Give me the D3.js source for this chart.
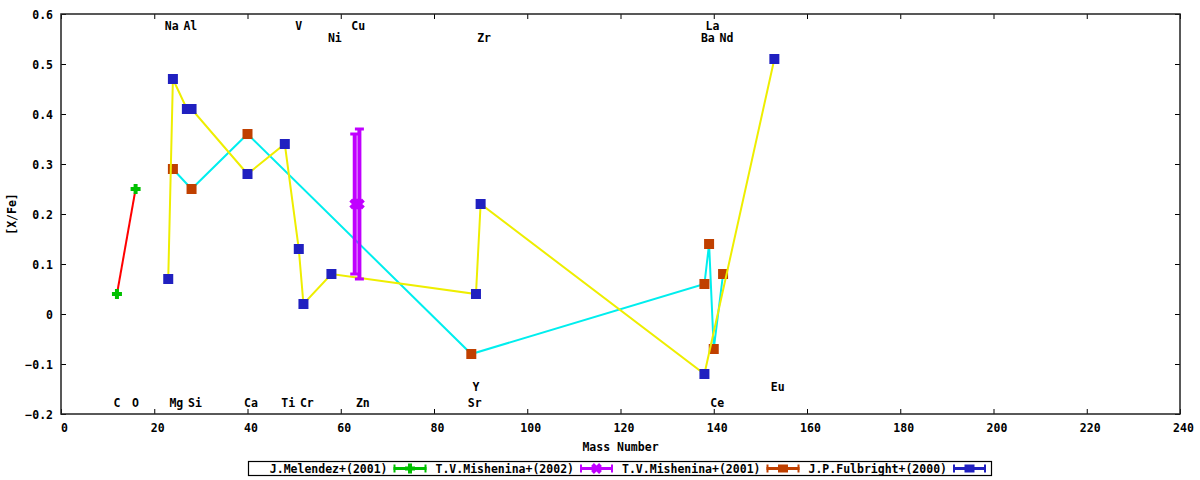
<!DOCTYPE html>
<html>
<head>
<meta charset="utf-8">
<script src="https://cdn.jsdelivr.net/npm/d3@7/dist/d3.min.js"></script>
<style>
    body { margin: 0; background: #fff; }
    text { font-family: "DejaVu Sans Mono", monospace; font-weight: bold; font-size: 11.5px; fill: #000; }
</style>
</head>
<body>
<div id="graphic"></div>
<script>
// J.Melendez+(2001): C, O
var melendezMass = [12, 16];
var melendezVal = [0.04, 0.25];

// T.V.Mishenina+(2002): Cu, Zn with error bars
var mish02Mass = [63, 64];
var mish02Val = [0.22, 0.22];
var mish02Lo = [0.08, 0.07];
var mish02Hi = [0.36, 0.37];

// T.V.Mishenina+(2001)
var mish01Mass = [24, 28, 40, 88, 138, 139, 140, 142];
var mish01Val = [0.29, 0.25, 0.36, -0.08, 0.06, 0.14, -0.07, 0.08];

// J.P.Fulbright+(2000)
var fulbMass = [23, 24, 27, 28, 40, 48, 51, 52, 58, 89, 90, 138, 153];
var fulbVal = [0.07, 0.47, 0.41, 0.41, 0.28, 0.34, 0.13, 0.02, 0.08, 0.04, 0.22, -0.12, 0.51];

// element labels (row: 0,1 top rows; 2,3 bottom rows)
var elemNames = ['C', 'O', 'Na', 'Mg', 'Al', 'Si', 'Ca', 'Ti', 'V', 'Cr', 'Ni', 'Cu', 'Zn', 'Sr', 'Y', 'Zr', 'Ba', 'La', 'Ce', 'Nd', 'Eu'];
var elemMass = [12, 16, 23, 24, 27, 28, 40, 48, 51, 52, 58, 63, 64, 88, 89, 90, 138, 139, 140, 142, 153];
var elemRow = [3, 3, 0, 3, 0, 3, 3, 3, 0, 3, 1, 0, 3, 3, 2, 1, 1, 0, 3, 1, 2];

var xTicks = [0, 20, 40, 60, 80, 100, 120, 140, 160, 180, 200, 220, 240];
var yTicks = [-0.2, -0.1, 0, 0.1, 0.2, 0.3, 0.4, 0.5, 0.6];

var legendNames = ['J.Melendez+(2001)', 'T.V.Mishenina+(2002)', 'T.V.Mishenina+(2001)', 'J.P.Fulbright+(2000)'];

var colors = {
    'red': '#ff0000', 'green': '#00c000', 'magenta': '#c000ff', 'cyan': '#00eeee',
    'brown': '#c04000', 'yellow': '#eeee00', 'navy': '#2020c0'
};

var rowValue = [0.576, 0.552, -0.146, -0.178];

var render = function() {
    var width = 1200, height = 480;
    var margins = { top: 14, right: 20, bottom: 66, left: 61 };

    var svg = d3.select('#graphic').append('svg')
        .attr('width', width)
        .attr('height', height);

    var x = d3.scaleLinear().domain([0, 240]).range([margins.left, width - margins.right]);
    var y = d3.scaleLinear().domain([-0.2, 0.6]).range([height - margins.bottom, margins.top]);

    var x0 = x.range()[0], x1 = x.range()[1], y0 = y.range()[0], y1 = y.range()[1];

    // axes, ticks pointing inward, mirrored on top and right
    var fmt = function(d) { return d === 0 ? '0' : d3.format('.1f')(d); };

    var bottom = svg.append('g').attr('transform', 'translate(0,' + y0 + ')')
        .call(d3.axisBottom(x).tickValues(xTicks).tickSize(-5).tickPadding(10).tickFormat(d3.format('d')));
    var top = svg.append('g').attr('transform', 'translate(0,' + y1 + ')')
        .call(d3.axisTop(x).tickValues(xTicks).tickSize(-5).tickFormat(''));
    var left = svg.append('g').attr('transform', 'translate(' + x0 + ',0)')
        .call(d3.axisLeft(y).tickValues(yTicks).tickSize(-5).tickPadding(8).tickFormat(fmt));
    var right = svg.append('g').attr('transform', 'translate(' + x1 + ',0)')
        .call(d3.axisRight(y).tickValues(yTicks).tickSize(-5).tickFormat(''));

    [bottom, top, left, right].forEach(function(g) {
        g.select('.domain').remove();
        g.selectAll('line').attr('stroke', '#000');
        g.selectAll('text').attr('font-family', null).attr('font-size', null).attr('fill', null);
    });
    left.selectAll('text').attr('dy', '0.35em');
    bottom.selectAll('text').attr('dx', 3);

    svg.append('rect')
        .attr('x', x0).attr('y', y1)
        .attr('width', x1 - x0).attr('height', y0 - y1)
        .attr('fill', 'none').attr('stroke', '#222').attr('stroke-width', 1.5);

    // axis titles
    svg.append('text')
        .attr('x', (x0 + x1) / 2).attr('y', 451)
        .attr('text-anchor', 'middle')
        .text('Mass Number');
    svg.append('text')
        .attr('transform', 'translate(16,' + ((y0 + y1) / 2) + ') rotate(-90)')
        .attr('text-anchor', 'middle')
        .text('[X/Fe]');

    // element labels
    svg.append('g').selectAll('text')
        .data(elemNames)
        .enter().append('text')
        .attr('x', function(d, i) { return x(elemMass[i]) - 3.5; })
        .attr('y', function(d, i) { return y(rowValue[elemRow[i]]); })
        .attr('dy', '0.35em')
        .text(function(d) { return d; });

    var line = d3.line()
        .x(function(d) { return x(d[0]); })
        .y(function(d) { return y(d[1]); });

    var zip = function(a, b) { return a.map(function(d, i) { return [d, b[i]]; }); };

    // connecting lines and points
    svg.append('path').datum(zip(melendezMass, melendezVal))
        .attr('d', line).attr('fill', 'none').attr('stroke', colors.red).attr('stroke-width', 2);

    svg.append('path').datum(zip(mish01Mass, mish01Val))
        .attr('d', line).attr('fill', 'none').attr('stroke', colors.cyan).attr('stroke-width', 2);

    var sq = 10;
    svg.append('g').selectAll('rect')
        .data(zip(mish01Mass, mish01Val))
        .enter().append('rect')
        .attr('x', function(d) { return x(d[0]) - sq / 2; })
        .attr('y', function(d) { return y(d[1]) - sq / 2; })
        .attr('width', sq).attr('height', sq)
        .attr('fill', colors.brown);

    svg.append('path').datum(zip(fulbMass, fulbVal))
        .attr('d', line).attr('fill', 'none').attr('stroke', colors.yellow).attr('stroke-width', 2);

    svg.append('g').selectAll('rect')
        .data(zip(fulbMass, fulbVal))
        .enter().append('rect')
        .attr('x', function(d) { return x(d[0]) - sq / 2; })
        .attr('y', function(d) { return y(d[1]) - sq / 2; })
        .attr('width', sq).attr('height', sq)
        .attr('fill', colors.navy);

    // markers
    var plus = function(g, cx, cy, color) {
        g.append('path')
            .attr('d', 'M' + (cx - 5) + ',' + cy + 'H' + (cx + 5) + 'M' + cx + ',' + (cy - 5) + 'V' + (cy + 5))
            .attr('stroke', color).attr('stroke-width', 4).attr('fill', 'none');
    };
    var cross = function(g, cx, cy, color) {
        g.append('path')
            .attr('d', 'M' + (cx - 4) + ',' + (cy - 4) + 'L' + (cx + 4) + ',' + (cy + 4) +
                'M' + (cx - 4) + ',' + (cy + 4) + 'L' + (cx + 4) + ',' + (cy - 4))
            .attr('stroke', color).attr('stroke-width', 4).attr('fill', 'none');
    };

    var gGreen = svg.append('g');
    melendezMass.forEach(function(m, i) { plus(gGreen, x(m), y(melendezVal[i]), colors.green); });

    // error bars
    var gErr = svg.append('g');
    mish02Mass.forEach(function(m, i) {
        var cx = x(m);
        gErr.append('line')
            .attr('x1', cx).attr('x2', cx)
            .attr('y1', y(mish02Lo[i])).attr('y2', y(mish02Hi[i]))
            .attr('stroke', colors.magenta).attr('stroke-width', 4);
        [mish02Lo[i], mish02Hi[i]].forEach(function(v) {
            gErr.append('line')
                .attr('x1', cx - 4.5).attr('x2', cx + 4.5)
                .attr('y1', y(v)).attr('y2', y(v))
                .attr('stroke', colors.magenta).attr('stroke-width', 3);
        });
        cross(gErr, cx, y(mish02Val[i]), colors.magenta);
    });

    // legend
    var legendY = 468.5;
    var legendLeft = 248.5, entryWidth = 186.5;
    svg.append('rect')
        .attr('x', legendLeft).attr('y', 461.5)
        .attr('width', entryWidth * 4 - 3).attr('height', 14)
        .attr('fill', 'none').attr('stroke', '#000').attr('stroke-width', 1.2);

    var sampleColors = [colors.green, colors.magenta, colors.brown, colors.navy];
    var gLegend = svg.append('g');
    legendNames.forEach(function(name, i) {
        var textEnd = legendLeft + 139 + i * entryWidth;
        gLegend.append('text')
            .attr('x', textEnd).attr('y', legendY)
            .attr('dy', '0.35em')
            .attr('text-anchor', 'end')
            .text(name);
        var sx0 = textEnd + 6, sx1 = textEnd + 39, c = sampleColors[i];
        gLegend.append('line')
            .attr('x1', sx0).attr('x2', sx1).attr('y1', legendY).attr('y2', legendY)
            .attr('stroke', c).attr('stroke-width', 3);
        [sx0 + 1, sx1 - 1].forEach(function(ex) {
            gLegend.append('line')
                .attr('x1', ex).attr('x2', ex).attr('y1', legendY - 4).attr('y2', legendY + 4)
                .attr('stroke', c).attr('stroke-width', 2);
        });
        var mx = (sx0 + sx1) / 2;
        if (i === 0) {
            plus(gLegend, mx, legendY, c);
        } else if (i === 1) {
            cross(gLegend, mx, legendY, c);
        } else {
            gLegend.append('rect')
                .attr('x', mx - 5).attr('y', legendY - 4)
                .attr('width', 10).attr('height', 8)
                .attr('fill', c);
        }
    });
};

render();
</script>
</body>
</html>
